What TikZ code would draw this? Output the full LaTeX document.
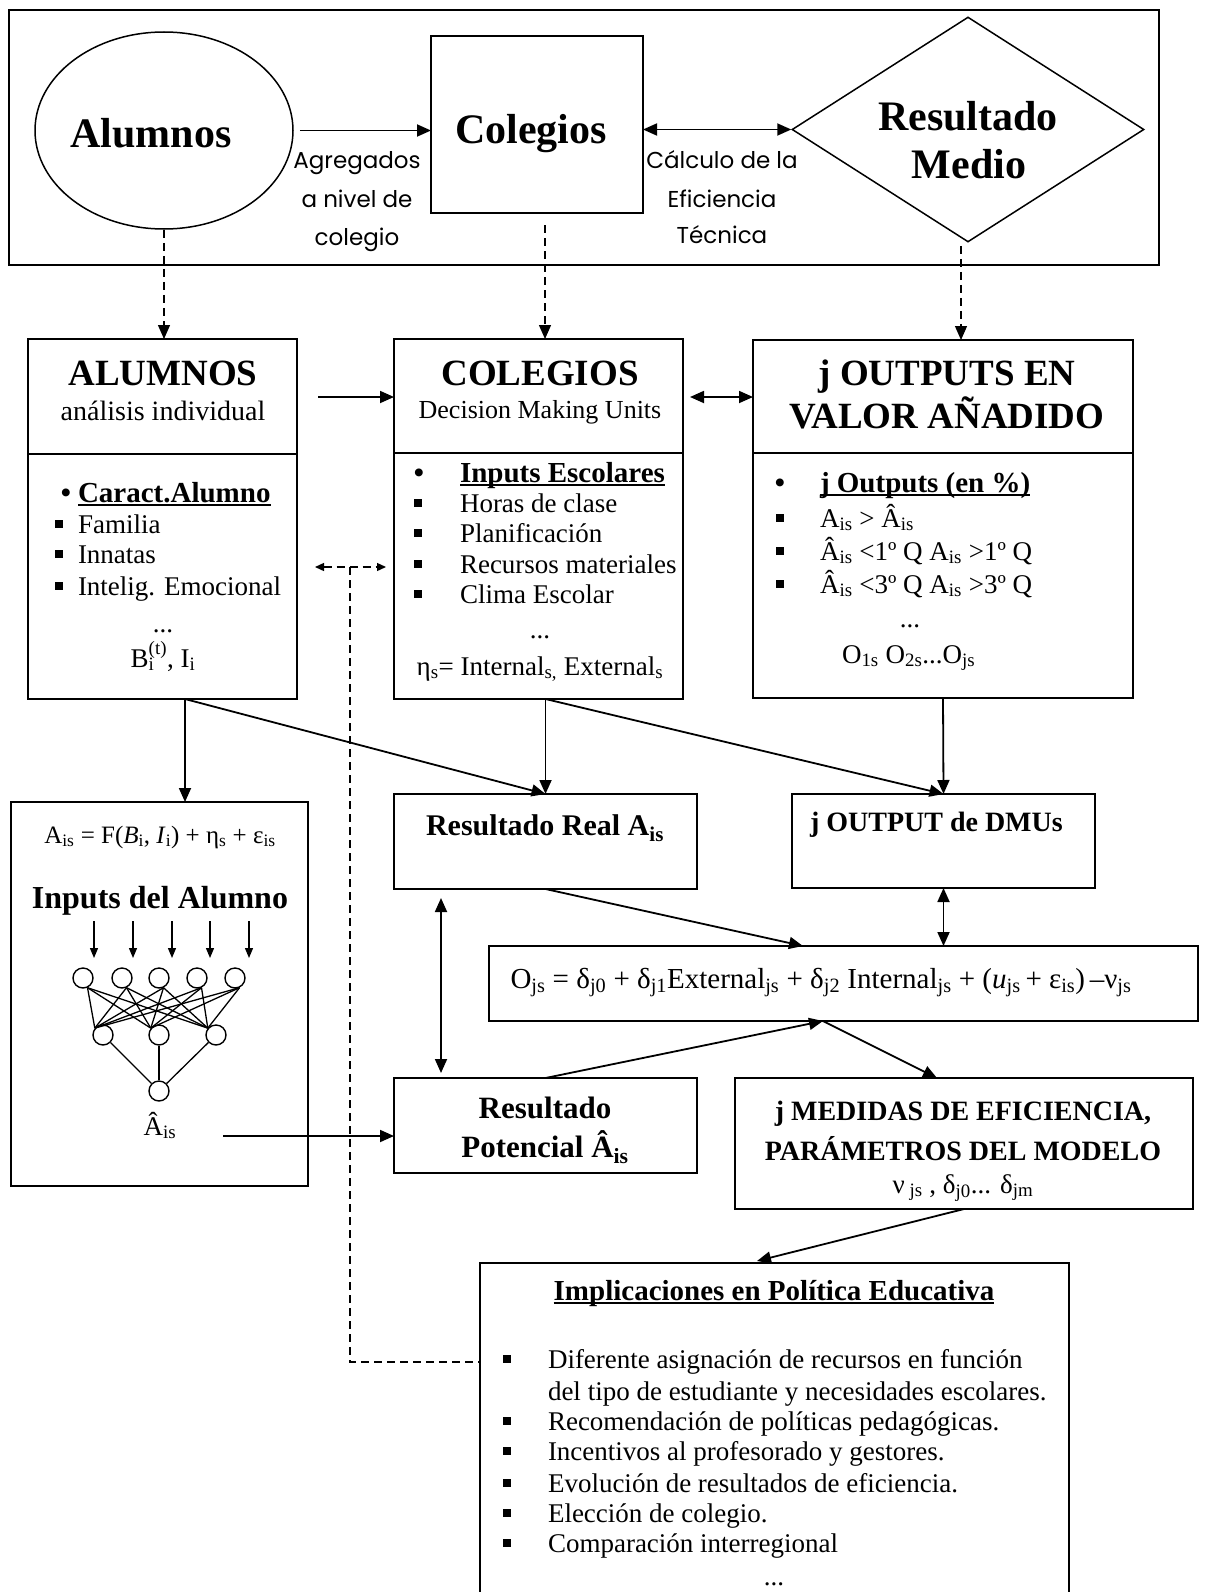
\documentclass[tikz,border=0pt]{standalone}
\usepackage{fontspec}
\setmainfont{Liberation Serif}
\newfontfamily\handfont{Poppins}
\usetikzlibrary{arrows.meta,shapes.geometric}

\newcommand\fsz[1]{\fontsize{#1pt}{#1pt}\selectfont}
\newcommand\sbs[1]{\textsubscript{#1}}
\newcommand\sqb{\rule[5pt]{8pt}{8pt}}
\newcommand\uln[1]{\setbox0\hbox{#1}\rlap{\rule[-4pt]{\wd0}{2.2pt}}\box0}
\newcommand\lbul[2]{\llap{#1\hspace{#2pt}}}

\begin{document}
\begin{tikzpicture}[x=1pt,y=-1pt,
  box/.style={draw,line width=1.8pt,rectangle,inner sep=0pt,outer sep=0pt,anchor=north west},
  txt/.style={inner sep=0pt,outer sep=0pt,anchor=base},
  txtl/.style={txt,anchor=base west},
  big/.style={txt,font=\bfseries\fsz{42}},
  hand/.style={txt,font=\handfont\fsz{23}},
  head/.style={txt,font=\bfseries\fsz{37}},
  subhead/.style={txt,font=\fsz{27}},
  body/.style={txtl,font=\fsz{27}},
  bodyc/.style={txt,font=\fsz{27}},
  bhead/.style={txtl,font=\bfseries\fsz{29}},
  conn/.style={line width=1.8pt,-{Triangle[length=14pt,width=12pt]}},
  conn2/.style={line width=1.8pt,{Triangle[length=14pt,width=12pt]}-{Triangle[length=14pt,width=12pt]}},
  dsh/.style={line width=1.3pt,dash pattern=on 8pt off 5pt},
  dconn/.style={dsh,-{Triangle[length=14pt,width=12pt]}},
  dconn2/.style={dsh,{Triangle[length=9pt,width=8pt]}-{Triangle[length=9pt,width=8pt]}},
  neuron/.style={draw,circle,line width=1.4pt,minimum size=20pt,inner sep=0pt},
  syn/.style={line width=1.3pt},
  feed/.style={line width=1.3pt,-{Triangle[length=10pt,width=8pt]}},
]
\useasboundingbox (0,0) rectangle (1208,1592);
\clip (0,0) rectangle (1208,1592);

% ---------- aggregated level ----------
\node[box,line width=1.6pt,minimum width=1150pt,minimum height=255pt] (frame) at (9,10) {};
\node[draw,ellipse,line width=1.5pt,minimum width=258pt,minimum height=197pt,inner sep=0pt] (ell) at (164,130.5) {};
\node[box,line width=1.5pt,minimum width=212pt,minimum height=177pt] (col1) at (431,36) {};
\node[draw,diamond,line width=1.5pt,minimum width=352pt,minimum height=225pt,inner sep=0pt] (dia) at (968,129.5) {};

\node[big] (tAl) at (151,147) {Alumnos};
\node[big] (tCo) at (531,143) {Colegios};
\node[big] (tRe) at (968,131) {Resultado};
\node[big] (tMe) at (969,178) {Medio};

\node[hand] (lab1) at (357,168) {Agregados};
\node[hand] (lab2) at (357,207) {a nivel de};
\node[hand] (lab3) at (357,245) {colegio};
\node[hand] (lab4) at (722,168) {Cálculo de la};
\node[hand] (lab5) at (722,207) {Eficiencia};
\node[hand] (lab6) at (722,243) {Técnica};

\draw[conn] ([xshift=6pt]ell.east) -- (ell.east -| col1.west);
\draw[conn2] (col1.east |- dia.west) -- (dia.west);

% ---------- individual level ----------
\node[box,minimum width=269pt,minimum height=115pt] (alumH) at (28,339) {};
\node[box,minimum width=269pt,minimum height=245pt] (alumL) at (28,454) {};
\node[box,minimum width=289pt,minimum height=114pt] (colH) at (394,339) {};
\node[box,minimum width=289pt,minimum height=246pt] (colL) at (394,453) {};
\node[box,minimum width=380pt,minimum height=113pt] (outH) at (753,340) {};
\node[box,minimum width=380pt,minimum height=245pt] (outL) at (753,453) {};

\draw[dconn] (ell.south) -- (ell.south |- alumH.north);
\draw[dconn] ([xshift=8pt,yshift=-12pt]col1.south) -- ([xshift=8pt]col1.south |- colH.north);
\draw[dconn] ([xshift=-7pt,yshift=-3pt]dia.south) -- ([xshift=-7pt]dia.south |- outH.north);

\node[head] (hAl) at (163,385) {ALUMNOS};
\node[subhead,font=\fsz{28}] (sAl) at (163,420) {análisis individual};
\node[head] (hCo) at (540,385) {COLEGIOS};
\node[subhead,font=\fsz{26}] (sCo) at (540,418) {Decision Making Units};
\node[head] (hOu1) at (947,385) {j OUTPUTS EN};
\node[head] (hOu2) at (947,428) {VALOR AÑADIDO};

% student characteristics
\node[bhead] (al0) at (78,502) {\lbul{•}{7}\uln{Caract.Alumno}};
\foreach \yy/\t [count=\i] in {533/Familia,563/Innatas,595/Intelig. Emocional}
  \node[body] (al\i) at (78,\yy) {\lbul{\sqb}{15}\t};
\node[bodyc] (alD) at (163,632) {...};
\node[bodyc] (alB) at (163,667) {B\rlap{\sbs{i}}\raisebox{3pt}{\textsuperscript{(t)}}, I\sbs{i}};

% school inputs
\node[bhead] (co0) at (460,482) {\lbul{•}{36}\uln{Inputs Escolares}};
\foreach \yy/\t [count=\i] in {512/Horas de clase,542/Planificación,573/Recursos materiales,603/Clima Escolar}
  \node[body] (co\i) at (460,\yy) {\lbul{\sqb}{38}\t};
\node[bodyc] (coD) at (540,638) {...};
\node[bodyc] (coE) at (540,675) {η\sbs{s}= Internal\sbs{s,} External\sbs{s}};

% value-added outputs
\node[bhead] (ou0) at (820,492) {\lbul{•}{35}\uln{j Outputs (en \%)}};
\foreach \yy/\t [count=\i] in {527/{A\sbs{is} > Â\sbs{is}},560/{Â\sbs{is} <1º Q A\sbs{is} >1º Q},593/{Â\sbs{is} <3º Q A\sbs{is} >3º Q}}
  \node[body] (ou\i) at (820,\yy) {\lbul{\sqb}{36}\t};
\node[bodyc] (ouD) at (910,627) {...};
\node[body] (ouO) at (842,663) {O\sbs{1s} O\sbs{2s}...O\sbs{js}};

\coordinate (aS) at (318,397);
\draw[conn] (aS) -- (aS -| colH.west);
\coordinate (dS) at (690,397);
\draw[conn2] (dS) -- (dS -| outH.west);

% ---------- student production function ----------
\node[box,minimum width=297pt,minimum height=384pt] (inp) at (11,802) {};
\node[txt,font=\fsz{25}] (form) at (160,843) {A\sbs{is} = F(\textit{B}\sbs{i}, \textit{I}\sbs{i}) + η\sbs{s} + ε\sbs{is}};
\node[txt,font=\bfseries\fsz{32}] (inTit) at (160,908) {Inputs del Alumno};

\foreach \x [count=\i] in {94,133,172,210,249}{
  \coordinate (fa\i) at (\x,921);
  \coordinate (fb\i) at (\x,958);
  \draw[feed] (fa\i) -- (fb\i);
}
\foreach \x [count=\i] in {83,122,159,197,235}
  \node[neuron] (n\i) at (\x,978) {};
\foreach \x [count=\i] in {103,159,216}
  \node[neuron] (h\i) at (\x,1035) {};
\node[neuron] (o) at (159,1091) {};
\foreach \i in {1,...,5}
  \foreach \j in {1,2,3}
    \draw[syn] (n\i.-65) -- (h\j.140);
\foreach \j in {1,2,3}
  \draw[syn] (h\j) -- (o);
\node[txt,font=\fsz{27}] (hatA) at (160,1135) {Â\sbs{is}};

% ---------- results and model ----------
\node[box,minimum width=303pt,minimum height=95pt] (real) at (394,794) {};
\node[box,minimum width=303pt,minimum height=94pt] (dmu) at (792,794) {};
\node[box,minimum width=709pt,minimum height=75pt] (eq) at (489,946) {};
\node[box,minimum width=303pt,minimum height=95pt] (pot) at (394,1078) {};
\node[box,minimum width=458pt,minimum height=131pt] (med) at (735,1078) {};
\node[box,minimum width=589pt,minimum height=340pt] (impl) at (480,1263) {};

\node[txt,font=\bfseries\fsz{30}] (tReal) at (545,835) {Resultado Real A\sbs{is}};
\node[txtl,font=\bfseries\fsz{28}] (tDmu) at (810,831) {j OUTPUT de DMUs};
\node[txt,font=\fsz{29}] (tEq) at (821,988) {O\sbs{js} = δ\sbs{j0} + δ\sbs{j1}External\sbs{js} + δ\sbs{j2} Internal\sbs{js} + (\textit{u}\sbs{js}\,+ ε\sbs{is})\,–ν\sbs{js}};
\node[txt,font=\bfseries\fsz{31}] (tPot1) at (545,1118) {Resultado};
\node[txt,font=\bfseries\fsz{31}] (tPot2) at (545,1157) {Potencial Â\sbs{is}};
\node[txt,font=\bfseries\fsz{28}] (tMed1) at (963,1120) {j MEDIDAS DE EFICIENCIA,};
\node[txt,font=\bfseries\fsz{28}] (tMed2) at (963,1160) {PARÁMETROS DEL MODELO};
\node[txt,font=\fsz{27}] (tMed3) at (963,1193) {ν\sbs{ js} , δ\sbs{j0}... δ\sbs{jm}};

\coordinate (aOut) at (185,699);
\draw[conn] (aOut) -- (aOut |- inp.north);
\draw[conn] (aOut) -- (real.north);
\draw[conn] (real.north |- colL.south) -- (real.north);
\draw[conn] (real.north |- colL.south) -- (dmu.north);
\draw[conn] (outL.south) -- (dmu.north);
\draw[conn2] (dmu.south) -- (dmu.south |- eq.north);
\coordinate (eqA) at (803,946);
\draw[conn] (real.south) -- (eqA);
\coordinate (rv1) at (441,898);
\coordinate (rv2) at (441,1073);
\draw[conn2] (rv1) -- (rv2);
\coordinate (eqB) at (823,1021);
\draw[conn] (pot.north) -- (eqB);
\coordinate (medIn) at (937,1078);
\draw[conn] (eqB) -- (medIn);
\coordinate (hatOut) at (223,1136);
\draw[conn] (hatOut) -- (hatOut -| pot.west);
\coordinate (impIn) at (757,1261);
\draw[conn] (med.south) -- (impIn);

% ---------- policy implications ----------
\node[txt,font=\bfseries\fsz{29}] (tImp) at (774,1300) {\uln{Implicaciones en Política Educativa}};
\node[body] (im1) at (548,1368) {\lbul{\sqb}{37}Diferente asignación de recursos en función};
\node[body] (im2) at (548,1400) {del tipo de estudiante y necesidades escolares.};
\foreach \yy/\t [count=\i from 3] in {1430/Recomendación de políticas pedagógicas.,1460/Incentivos al profesorado y gestores.,1492/Evolución de resultados de eficiencia.,1522/Elección de colegio.,1552/Comparación interregional}
  \node[body] (im\i) at (548,\yy) {\lbul{\sqb}{37}\t};
\node[bodyc] (imD) at (774,1585) {...};

% feedback from policy to inputs
\coordinate (dl) at (315,567);
\coordinate (dr) at (386,567);
\coordinate (dj) at (350,567);
\coordinate (dc) at (350,1362);
\draw[dconn2] (dl) -- (dr);
\draw[dsh] (dj) -- (dc) -- (dc -| impl.west);
\end{tikzpicture}
\end{document}
